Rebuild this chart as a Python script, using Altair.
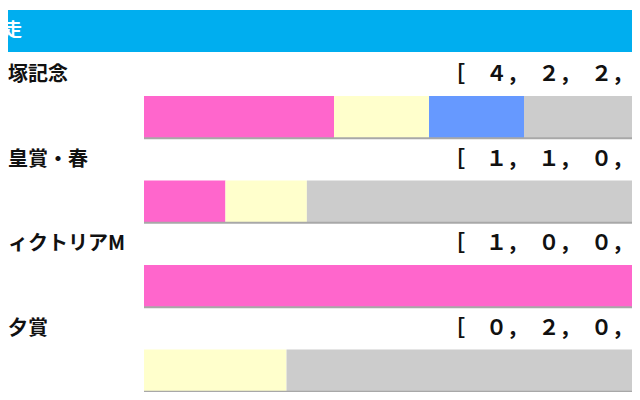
import altair as alt
import pandas as pd

races = ["宝塚記念", "天皇賞・春", "ヴィクトリアM", "七夕賞"]
places = ["1着", "2着", "3着", "着外"]
wins = [4, 1, 1, 0]
seconds = [2, 1, 0, 2]
thirds = [2, 0, 0, 0]
others = [4, 5, 0, 6]
header = "前走"

colors = ["#FF66CC", "#FFFFCC", "#6699FF", "#CCCCCC"]

fw = str.maketrans("0123456789", "０１２３４５６７８９")

rows = []
for i, race in enumerate(races):
    counts = [wins[i], seconds[i], thirds[i], others[i]]
    for k, (p, c) in enumerate(zip(places, counts)):
        rows.append({"race": race, "place": p, "order": k, "n": c})
bars = pd.DataFrame(rows)

labels = pd.DataFrame({
    "race": races,
    "bracket": [
        "［　" + "，　".join(str(v).translate(fw) for v in (a, b, c, d)) + "　］"
        for a, b, c, d in zip(wins, seconds, thirds, others)
    ],
    "lo": 0,
    "hi": 1,
})

yscale = alt.Scale(range=[88, 383.75], paddingInner=0.5, paddingOuter=0)
xscale = alt.Scale(domain=[-0.2386, 0.8561])
font = "Noto Sans CJK JP"

stacked = alt.Chart(bars).mark_bar(clip=True).encode(
    alt.X("n:Q", stack="normalize", scale=xscale, axis=None),
    alt.Y("race:N", sort=races, scale=yscale, axis=None),
    alt.Color("place:N", scale=alt.Scale(domain=places, range=colors), legend=None),
    alt.Order("order:Q"),
)

shadow = alt.Chart(labels).mark_rule(clip=True, color="#A8A8A8", strokeWidth=2).encode(
    alt.X("lo:Q", scale=xscale, axis=None),
    alt.X2("hi:Q"),
    alt.Y("race:N", sort=races, scale=yscale, axis=None, bandPosition=1),
)

names = alt.Chart(labels).mark_text(
    clip=True, align="left", baseline="middle", dy=-42,
    font=font, fontSize=20, fontWeight="bold", color="#111111",
).encode(
    x=alt.value(-20),
    y=alt.Y("race:N", sort=races, scale=yscale, axis=None),
    text="race:N",
)

brackets = alt.Chart(labels).mark_text(
    clip=True, align="left", baseline="middle", dy=-42,
    font=font, fontSize=21, fontWeight="bold", color="#111111",
).encode(
    x=alt.value(436),
    y=alt.Y("race:N", sort=races, scale=yscale, axis=None),
    text="bracket:N",
)

band = alt.Chart(pd.DataFrame({"t": [header]})).mark_rect(color="#00AEEF").encode(
    x=alt.value(0), x2=alt.value(624), y=alt.value(2), y2=alt.value(44),
)

head = alt.Chart(pd.DataFrame({"t": [header]})).mark_text(
    clip=True, align="left", baseline="middle",
    font=font, fontSize=18, fontWeight="bold", color="white",
).encode(
    x=alt.value(-22), y=alt.value(23), text="t:N",
)

chart = alt.layer(band, head, stacked, shadow, names, brackets).properties(
    width=624, height=384, padding=0, autosize="none", background="white",
).configure_view(stroke=None)

chart.save("out.html", embed_options={"renderer": "svg", "actions": False})
